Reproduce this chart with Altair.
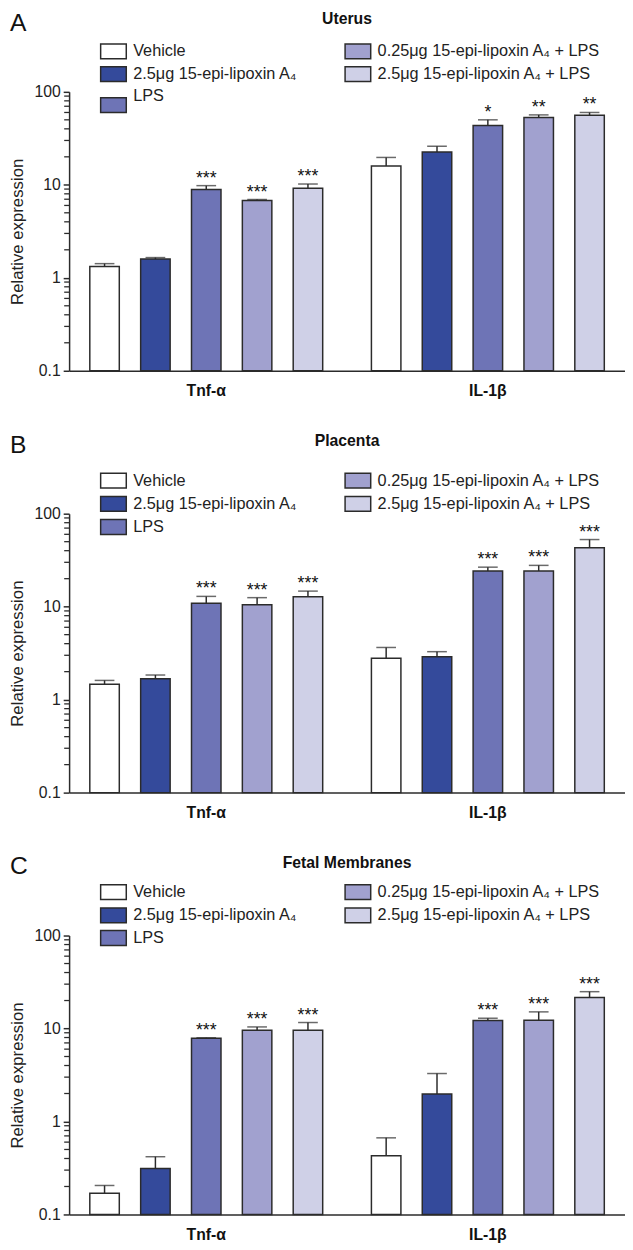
import altair as alt
import pandas as pd

# ---------------- data ----------------
genes = ["Tnf-α", "IL-1β"]
treatments = [
    "Vehicle",
    "2.5μg 15-epi-lipoxin A₄",
    "LPS",
    "0.25μg 15-epi-lipoxin A₄ + LPS",
    "2.5μg 15-epi-lipoxin A₄ + LPS",
]
colors = ["#ffffff", "#344a9b", "#6e74b6", "#a1a1cf", "#cfd0e7"]

panel_letters = ["A", "B", "C"]
panel_titles = ["Uterus", "Placenta", "Fetal Membranes"]

# Uterus
uterus_tnf_mean = [1.32, 1.59, 8.9, 6.8, 9.2]
uterus_tnf_upper = [1.42, 1.65, 9.8, 6.95, 10.2]
uterus_tnf_sig = ["", "", "***", "***", "***"]
uterus_il_mean = [15.9, 22.6, 43.5, 52.9, 56.0]
uterus_il_upper = [19.7, 26.0, 50.0, 56.5, 60.0]
uterus_il_sig = ["", "", "*", "**", "**"]

# Placenta
placenta_tnf_mean = [1.46, 1.68, 10.9, 10.5, 12.8]
placenta_tnf_upper = [1.61, 1.84, 12.9, 12.5, 14.7]
placenta_tnf_sig = ["", "", "***", "***", "***"]
placenta_il_mean = [2.78, 2.9, 24.2, 24.2, 43.0]
placenta_il_upper = [3.64, 3.28, 26.6, 27.8, 52.7]
placenta_il_sig = ["", "", "***", "***", "***"]

# Fetal membranes
fetal_tnf_mean = [0.169, 0.312, 7.85, 9.6, 9.6]
fetal_tnf_upper = [0.205, 0.418, 7.95, 10.4, 11.6]
fetal_tnf_sig = ["", "", "***", "***", "***"]
fetal_il_mean = [0.428, 1.97, 12.2, 12.3, 21.5]
fetal_il_upper = [0.667, 3.28, 12.9, 15.1, 24.9]
fetal_il_sig = ["", "", "***", "***", "***"]

major_ticks = [0.1, 1, 10, 100]
minor_ticks = [0.2, 0.3, 0.4, 0.5, 0.6, 0.7, 0.8, 0.9,
               2, 3, 4, 5, 6, 7, 8, 9,
               20, 30, 40, 50, 60, 70, 80, 90]

# ---------------- layout constants ----------------
W = 564
H = 283
FONT = "Liberation Sans"
INK = "#2b2b2b"

# per panel: left legend row centers, LPS text center, right legend row centers
panel_layout = [
    dict(rows=[-41, -18, 13.5], lps_text=4, right=[-41, -18]),
    dict(rows=[-33.5, -10, 13.5], lps_text=13.5, right=[-33.5, -10]),
    dict(rows=[-44, -20.5, 2.5], lps_text=2.5, right=[-44, -20.5]),
]
LETTER_Y = -62
TITLE_Y = -69


def panel_df(tm, tu, ts, im, iu, isg):
    rows = []
    for g, means, ups, sigs in [(genes[0], tm, tu, ts), (genes[1], im, iu, isg)]:
        for t, m, u, s in zip(treatments, means, ups, sigs):
            rows.append(dict(gene=g, treatment=t, value=m, upper=u, sig=s))
    return pd.DataFrame(rows)


datasets = [
    panel_df(uterus_tnf_mean, uterus_tnf_upper, uterus_tnf_sig,
             uterus_il_mean, uterus_il_upper, uterus_il_sig),
    panel_df(placenta_tnf_mean, placenta_tnf_upper, placenta_tnf_sig,
             placenta_il_mean, placenta_il_upper, placenta_il_sig),
    panel_df(fetal_tnf_mean, fetal_tnf_upper, fetal_tnf_sig,
             fetal_il_mean, fetal_il_upper, fetal_il_sig),
]

yscale = alt.Scale(type="log", domain=[0.1, 100], nice=False)
color_scale = alt.Scale(domain=treatments, range=colors)
yaxis = alt.Axis(values=major_ticks, format="~g", title="Relative expression",
                 grid=False, domainColor=INK, domainWidth=1.5,
                 tickColor=INK, tickWidth=1.5, tickSize=6,
                 labelFontSize=16, labelPadding=3, labelColor="#222",
                 titleFontSize=17, titleFontWeight="normal", titleColor="#222",
                 titlePadding=8, labelFont=FONT, titleFont=FONT)


def make_panel(df, letter, title, lay):
    x = alt.X(
        "gene:N", sort=genes,
        scale=alt.Scale(paddingInner=0.173, paddingOuter=0.0735),
        axis=alt.Axis(title=None, ticks=False, labelAngle=0, labelFontWeight="bold",
                      labelFontSize=16, labelPadding=12, labelColor="#111",
                      domainColor=INK, domainWidth=1.5, labelFont=FONT),
    )
    xo = alt.XOffset("treatment:N", sort=treatments,
                     scale=alt.Scale(paddingInner=0.42, paddingOuter=0))
    base = alt.Chart(df)
    bars = base.mark_bar(stroke=INK, strokeWidth=1.5).encode(
        x=x, xOffset=xo,
        y=alt.Y("value:Q", scale=yscale, axis=yaxis),
        y2=alt.datum(0.1),
        color=alt.Color("treatment:N", scale=color_scale, legend=None),
    )
    err = base.mark_rule(color=INK, strokeWidth=1.5).encode(
        x=x, xOffset=xo, y=alt.Y("value:Q", scale=yscale, axis=yaxis), y2="upper:Q")
    cap = base.mark_tick(color=INK, thickness=1.5, size=20).encode(
        x=x, xOffset=xo, y=alt.Y("upper:Q", scale=yscale, axis=yaxis))
    stars = base.mark_text(fontSize=18, baseline="alphabetic", dy=-2, color="#111").encode(
        x=x, xOffset=xo, y=alt.Y("upper:Q", scale=yscale, axis=yaxis), text="sig:N")

    mdf = pd.DataFrame({"minor": minor_ticks})
    minor_rule = alt.Chart(mdf).mark_rule(color=INK, strokeWidth=1.3).encode(
        y=alt.Y("minor:Q", scale=yscale, axis=yaxis),
        x=alt.value(-5), x2=alt.value(0))

    layers = [minor_rule, bars, err, cap, stars]

    # legend (drawn as marks)
    left_x, right_x = 32, 280
    for i, t in enumerate(treatments):
        if i < 3:
            bx, yc = left_x, lay["rows"][i]
            ty = lay["lps_text"] if i == 2 else yc
        else:
            bx, yc = right_x, lay["right"][i - 3]
            ty = yc
        ldf = pd.DataFrame({"t": [t]})
        layers.append(alt.Chart(ldf).mark_rect(stroke=INK, strokeWidth=1.5).encode(
            x=alt.value(bx), x2=alt.value(bx + 26),
            y=alt.value(yc - 7.5), y2=alt.value(yc + 7.5),
            color=alt.Color("t:N", scale=color_scale, legend=None)))
        layers.append(alt.Chart(ldf).mark_text(
            align="left", baseline="middle", fontSize=16.5, color="#222", font=FONT).encode(
            x=alt.value(bx + 33), y=alt.value(ty), text="t:N"))

    layers.append(alt.Chart(pd.DataFrame({"s": [letter]})).mark_text(
        align="left", baseline="alphabetic", fontSize=25, color="#111", font=FONT).encode(
        x=alt.value(-60), y=alt.value(LETTER_Y), text="s:N"))
    layers.append(alt.Chart(pd.DataFrame({"s": [title]})).mark_text(
        align="center", baseline="alphabetic", fontSize=16, fontWeight="bold",
        color="#111", font=FONT).encode(
        x=alt.value(W / 2), y=alt.value(TITLE_Y), text="s:N"))

    return alt.layer(*layers).properties(width=W, height=H)


panels = [make_panel(d, l, t, lay)
          for d, l, t, lay in zip(datasets, panel_letters, panel_titles, panel_layout)]

chart = alt.vconcat(*panels, spacing=35).properties(
    padding={"top": -6, "left": 0, "right": 0, "bottom": 0}).configure(
    font=FONT).configure_view(stroke=None)

chart.save("out.html", embed_options={"renderer": "svg", "actions": False})
